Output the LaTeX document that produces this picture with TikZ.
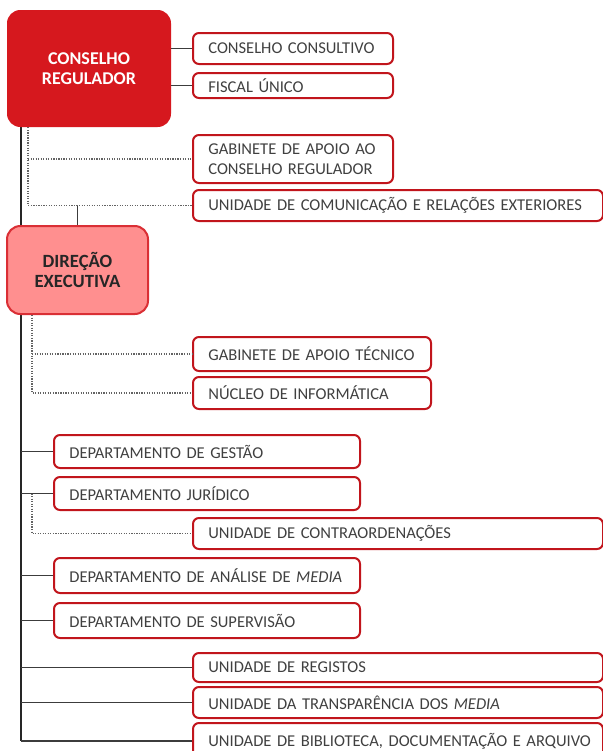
\documentclass[tikz,border=0pt]{standalone}
\usepackage{fontspec}
\setmainfont{Carlito}
\usetikzlibrary{positioning, backgrounds}
\definecolor{vermelho}{HTML}{D6181E}
\definecolor{rosa}{HTML}{FF8F8F}
\definecolor{borda}{HTML}{C1151C}
\definecolor{texto}{HTML}{404040}
\definecolor{traco}{HTML}{3C3C3C}

\begin{document}
\begin{tikzpicture}[x=0.75pt, y=-0.75pt, font=\fontsize{12.4}{15}\selectfont,
  topo/.style={rectangle, rounded corners=10pt, align=center, font=\fontsize{13.5}{15}\selectfont\bfseries},
  unidade/.style={rectangle, draw=borda, line width=1.5pt, rounded corners=4.5pt, fill=white, anchor=west, align=left, text=texto, inner xsep=11.5pt, inner ysep=2pt, minimum height=24pt},
  ucurta/.style={unidade, text width=127pt},
  umedia/.style={unidade, text width=155.5pt},
  udept/.style={unidade, text width=206.5pt},
  ulonga/.style={unidade, text width=284.5pt},
  ramo/.style={draw=traco, line width=1pt},
  tronco/.style={draw=black!85, line width=1.5pt},
  pontilhado/.style={draw=traco!80, line width=0.9pt, densely dotted}
]
  \useasboundingbox (0,0) rectangle (603,751);

  % direcao
  \node[topo, fill=vermelho, text=white, minimum width=123pt, minimum height=87.75pt] (cr) at (89,68.5) {CONSELHO\\REGULADOR};
  \node[topo, font=\fontsize{14}{15}\selectfont\bfseries, fill=rosa, draw=vermelho!90, line width=1.5pt, text=black!85, minimum width=105.75pt, minimum height=66pt] (de) at (77.5,270) {DIREÇÃO\\EXECUTIVA};

  % orgaos junto do conselho
  \node[ucurta, minimum height=23.25pt] (cc) at (192,48.5) {CONSELHO CONSULTIVO};
  \node[ucurta, minimum height=18.75pt] (fu) at (192,85.5) {FISCAL ÚNICO};
  \node[ucurta, minimum height=36pt] (gab) at (192,159) {GABINETE DE APOIO AO\\CONSELHO REGULADOR};
  \node[ulonga, minimum height=23.25pt] (ucre) at (192,205.5) {UNIDADE DE COMUNICAÇÃO E RELAÇÕES EXTERIORES};

  % apoio a direcao executiva
  \node[umedia, minimum height=25.5pt] (gat) at (192,354) {GABINETE DE APOIO TÉCNICO};
  \node[umedia, minimum height=24pt] (ni) at (192,393) {NÚCLEO DE INFORMÁTICA};

  % departamentos e unidades
  \node[udept, minimum height=24.75pt] (dg) at (53,451.5) {DEPARTAMENTO DE GESTÃO};
  \node[udept, minimum height=24.75pt] (dj) at (53,493.5) {DEPARTAMENTO JURÍDICO};
  \node[ulonga, minimum height=23.25pt] (uc) at (192,533.5) {UNIDADE DE CONTRAORDENAÇÕES};
  \node[udept, minimum height=26.25pt] (dam) at (53,575.5) {DEPARTAMENTO DE ANÁLISE DE \textit{MEDIA}};
  \node[udept, minimum height=26.25pt] (ds) at (53,620.5) {DEPARTAMENTO DE SUPERVISÃO};
  \node[ulonga, minimum height=21.75pt] (ur) at (192,667.5) {UNIDADE DE REGISTOS};
  \node[ulonga, minimum height=23.25pt] (ut) at (192,702.5) {UNIDADE DA TRANSPARÊNCIA DOS \textit{MEDIA}};
  \node[ulonga, minimum height=27pt] (ub) at (192,741) {\mbox{UNIDADE DE BIBLIOTECA, DOCUMENTAÇÃO E ARQUIVO}};

  % ligacoes
  \coordinate (xt) at (20.5,0);
  \coordinate (xa) at (28,0);
  \coordinate (xb) at (32,0);
  \begin{scope}[on background layer]
    \draw[tronco] (xt |- cr.south) -- (xt |- ub.west);
  \end{scope}
  \foreach \u in {cc, fu}
    \draw[ramo] (\u.west -| cr.east) -- (\u.west);
  \foreach \u in {dg, dj, dam, ds, ur, ut, ub}
    \draw[ramo] (\u.west -| xt) -- (\u.west);
  \draw[ramo] (de.north) -- (de.north |- ucre.west);

  \draw[pontilhado] (xa |- cr.south) -- (xa |- ucre.west) -- (ucre.west);
  \draw[pontilhado] (gab.west -| xa) -- (gab.west);
  \draw[pontilhado] (xb |- de.south) -- (xb |- ni.west) -- (ni.west);
  \draw[pontilhado] (gat.west -| xb) -- (gat.west);
  \draw[pontilhado] (xb |- dj.west) -- (xb |- uc.west) -- (uc.west);
\end{tikzpicture}
\end{document}
